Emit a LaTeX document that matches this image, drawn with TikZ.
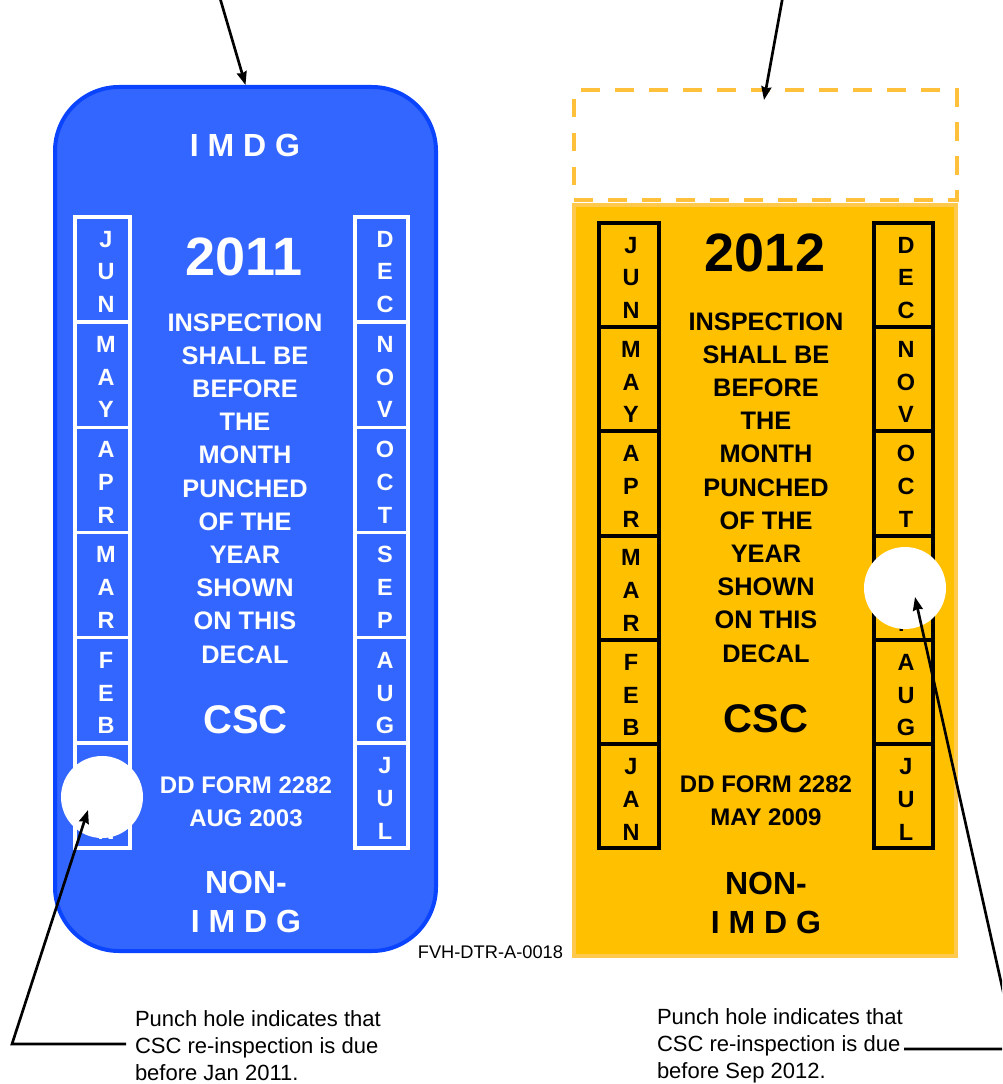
\documentclass[tikz,border=0pt]{standalone}
\usepackage{fontspec}
\setmainfont{Liberation Sans}
\usetikzlibrary{arrows.meta}
\definecolor{decalblue}{HTML}{3366FF}
\definecolor{decalblueedge}{HTML}{0A44FF}
\definecolor{decalyellow}{HTML}{FFC000}
\definecolor{decalyellowedge}{HTML}{FFC94D}
\definecolor{dashorange}{HTML}{FFC13B}
\begin{document}
\begin{tikzpicture}[x=0.75pt,y=-0.75pt,
  every node/.style={inner sep=0pt, outer sep=0pt},
  bluedecal/.style={draw=decalblueedge, fill=decalblue, line width=3pt, rounded corners=48pt,
    minimum width=285.75pt, minimum height=648pt, outer sep=1.5pt},
  yellowdecal/.style={draw=decalyellowedge, fill=decalyellow, line width=3pt,
    minimum width=286.5pt, minimum height=563pt},
  slot/.style={draw=dashorange, line width=3pt, dash pattern=on 14pt off 11.5pt,
    minimum width=287pt, minimum height=82.5pt},
  hole/.style={circle, fill=white, minimum size=61.5pt},
  titletxt/.style={font=\bfseries\fontsize{24}{29.25}\selectfont, align=center, anchor=base},
  yeartxt/.style={font=\bfseries\fontsize{40.5}{44}\selectfont, anchor=base},
  bodytxt/.style={font=\bfseries\fontsize{19}{24.9}\selectfont, align=center, anchor=base},
  csctxt/.style={font=\bfseries\fontsize{30}{34}\selectfont, anchor=base},
  formtxt/.style={font=\bfseries\fontsize{18}{24.75}\selectfont, align=center, anchor=base},
  monthtxt/.style={font=\bfseries\fontsize{17.6}{24.6}\selectfont, align=center, anchor=base},
  capt/.style={font=\fontsize{16.5}{19.9}\selectfont, align=left, anchor=base west},
  conn/.style={line width=2pt, -{Stealth[length=10pt,width=7.5pt,inset=1pt]}},
  whiteline/.style={draw=white, line width=2.6pt},
  blackline/.style={draw=black, line width=3pt}
]
\useasboundingbox (0,0) rectangle (1002,1084);
\clip (0,0) rectangle (1002,1084);

% multi-line nodes are placed by the baseline of their LAST line

% ---------------- left (blue) decal ----------------
\node[bluedecal] (decalL) at (245.5,519) {};
\begin{scope}[white]
\node[titletxt] (imdgL) at (245,157) {I M D G};
\node[yeartxt] (yearL) at (244,275) {2011};
\node[bodytxt] (bodyL) at (245,663) {INSPECTION\\SHALL BE\\BEFORE\\THE\\MONTH\\PUNCHED\\OF THE\\YEAR\\SHOWN\\ON THIS\\DECAL};
\node[csctxt] (cscL) at (245.5,733) {CSC};
\node[formtxt] (formL) at (246,826) {DD FORM 2282\\AUG 2003};
\node[titletxt] (nonL) at (246,932) {NON-\\I M D G};
\end{scope}
\draw[whiteline] (75,217) rectangle (130,848);
\draw[whiteline] (355,217) rectangle (408,848);
\foreach \k in {1,...,5}{
  \draw[whiteline] (75,{217+\k*105.17}) -- (130,{217+\k*105.17});
  \draw[whiteline] (355,{217+\k*105.17}) -- (408,{217+\k*105.17});
}
\foreach \t [count=\i from 0] in {{J\\U\\N},{M\\A\\Y},{A\\P\\R},{M\\A\\R},{F\\E\\B},{J\\A\\N}}
  \node[monthtxt, white] (mL\i) at (106,{312.6+\i*105.3}) {\t};
\foreach \t [count=\i from 0] in {{D\\E\\C},{N\\O\\V},{O\\C\\T},{S\\E\\P},{A\\U\\G},{J\\U\\L}}
  \node[monthtxt, white] (mLr\i) at (385,{312.6+\i*105.3}) {\t};
\node[hole] (holeL) at (102,797) {};

% ---------------- right (yellow) decal ----------------
\node[slot] (slotR) at (765.5,145) {};
\node[yellowdecal] (decalR) at (765,580.5) {};
\node[yeartxt] (yearR) at (765,272) {2012};
\node[bodytxt] (bodyR) at (766,662) {INSPECTION\\SHALL BE\\BEFORE\\THE\\MONTH\\PUNCHED\\OF THE\\YEAR\\SHOWN\\ON THIS\\DECAL};
\node[csctxt] (cscR) at (766,732) {CSC};
\node[formtxt] (formR) at (766,825) {DD FORM 2282\\MAY 2009};
\node[titletxt] (nonR) at (766,933) {NON-\\I M D G};
\draw[blackline] (599,223) rectangle (659,848);
\draw[blackline] (874,223) rectangle (933,848);
\foreach \k in {1,...,5}{
  \draw[blackline] (599,{223+\k*104.17}) -- (659,{223+\k*104.17});
  \draw[blackline] (874,{223+\k*104.17}) -- (933,{223+\k*104.17});
}
\foreach \t [count=\i from 0] in {{J\\U\\N},{M\\A\\Y},{A\\P\\R},{M\\A\\R},{F\\E\\B},{J\\A\\N}}
  \node[monthtxt] (mR\i) at (631,{318.6+\i*104.3}) {\t};
\foreach \t [count=\i from 0] in {{D\\E\\C},{N\\O\\V},{O\\C\\T},{S\\E\\P},{A\\U\\G},{J\\U\\L}}
  \node[monthtxt] (mRr\i) at (906,{318.6+\i*104.3}) {\t};
\node[hole] (holeR) at (905,588) {};

% ---------------- labels ----------------
\node[font=\fontsize{13.7}{16}\selectfont, anchor=base east] (fvh) at (563,958) {FVH-DTR-A-0018};
\node[capt] (capL) at (135,1080) {Punch hole indicates that\\CSC re-inspection is due\\before Jan 2011.};
\node[capt] (capR) at (657,1078) {Punch hole indicates that\\CSC re-inspection is due\\before Sep 2012.};

% ---------------- connectors ----------------
\coordinate (srcTL) at (217.6,-10);
\coordinate (srcTR) at (784,-10);
\coordinate (tipTR) at (764,100);
\coordinate (startL) at (126,1044);
\coordinate (cornerL) at (12,1044);
\coordinate (tipL) at (88,810);
\coordinate (startR) at (904,1049);
\coordinate (cornerR) at (1016,1049);
\coordinate (tipR) at (915,597);
\draw[conn] (srcTL) -- (decalL.north);
\draw[conn] (srcTR) -- (tipTR);
\draw[conn, line join=miter] (startL) -- (cornerL) -- (tipL);
\draw[conn, line join=miter] (startR) -- (cornerR) -- (tipR);
\end{tikzpicture}
\end{document}
